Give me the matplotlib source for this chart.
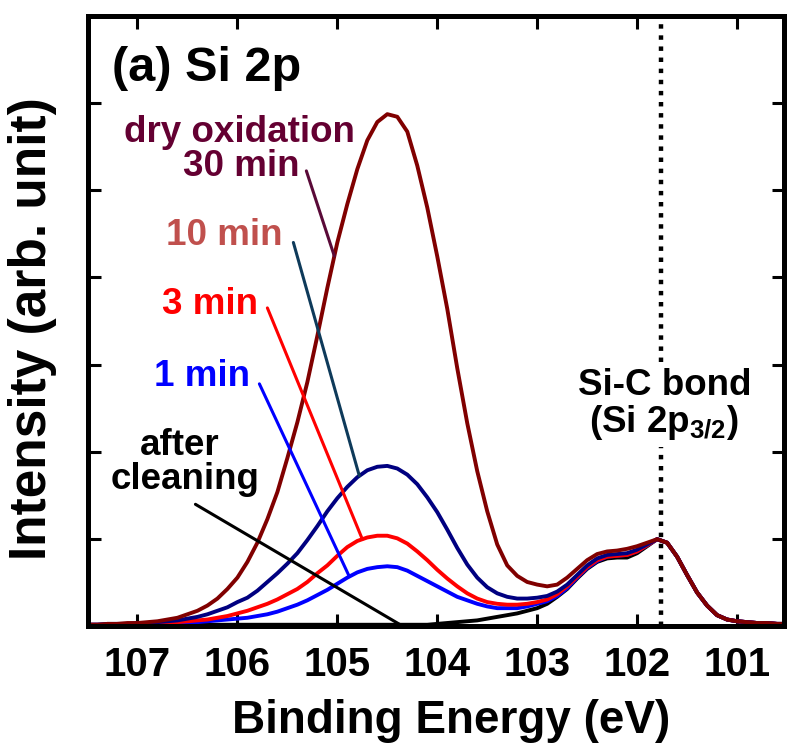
import numpy as np
import matplotlib
matplotlib.use("Agg")
import matplotlib.pyplot as plt

plt.rcParams["font.family"] = ["Liberation Sans", "DejaVu Sans"]
plt.rcParams["font.weight"] = "bold"
plt.rcParams["mathtext.fontset"] = "custom"
plt.rcParams["mathtext.rm"] = "Liberation Sans:bold"
plt.rcParams["mathtext.it"] = "Liberation Sans:bold"
plt.rcParams["mathtext.bf"] = "Liberation Sans:bold"

# Binding energy grid (eV), high to low
energy = np.round(np.arange(107.5, 100.45, -0.1), 1)

# Shared Si-C (Si 2p3/2) falling edge, 101.8 -> 100.5 eV
sic_tail = [1.00, 0.96, 0.80, 0.59, 0.39, 0.24, 0.13, 0.08, 0.06, 0.05,
            0.04, 0.04, 0.03, 0.03]

# Normalised intensities, 107.5 -> 101.9 eV
after_cleaning = [0.02, 0.02, 0.02, 0.02, 0.02, 0.02, 0.02, 0.02, 0.02, 0.02,
                  0.02, 0.02, 0.02, 0.02, 0.02, 0.02, 0.02, 0.02, 0.02, 0.02,
                  0.02, 0.02, 0.02, 0.02, 0.02, 0.02, 0.02, 0.02, 0.02, 0.02,
                  0.02, 0.02, 0.02, 0.02, 0.02,
                  0.03, 0.04, 0.05, 0.06, 0.07, 0.09, 0.11, 0.13, 0.15, 0.18,
                  0.21, 0.26, 0.34, 0.43, 0.55, 0.66, 0.74, 0.78, 0.79, 0.79,
                  0.84, 0.92]
ox_1min = [0.02, 0.02, 0.02, 0.02, 0.03, 0.03, 0.03, 0.04, 0.04, 0.05,
           0.05, 0.05, 0.06, 0.07, 0.08, 0.09, 0.10, 0.12, 0.14, 0.17,
           0.21, 0.25, 0.30, 0.36, 0.42, 0.49, 0.56, 0.62, 0.66, 0.68,
           0.69, 0.68, 0.64, 0.58, 0.52, 0.46, 0.40, 0.34, 0.30, 0.26,
           0.23, 0.21, 0.21, 0.21, 0.23, 0.26, 0.29, 0.35, 0.44, 0.56,
           0.67, 0.75, 0.80, 0.81, 0.82, 0.86, 0.93]
ox_3min = [0.02, 0.02, 0.02, 0.03, 0.03, 0.03, 0.04, 0.04, 0.05, 0.05,
           0.06, 0.07, 0.08, 0.10, 0.12, 0.15, 0.18, 0.22, 0.26, 0.31,
           0.37, 0.43, 0.51, 0.61, 0.70, 0.81, 0.91, 0.98, 1.02, 1.04,
           1.04, 1.01, 0.95, 0.86, 0.76, 0.65, 0.55, 0.46, 0.38, 0.32,
           0.28, 0.26, 0.25, 0.25, 0.26, 0.28, 0.31, 0.37, 0.46, 0.57,
           0.68, 0.76, 0.80, 0.81, 0.82, 0.86, 0.93]
ox_10min = [0.02, 0.02, 0.03, 0.03, 0.03, 0.04, 0.04, 0.05, 0.06, 0.07,
            0.09, 0.11, 0.14, 0.18, 0.22, 0.28, 0.33, 0.41, 0.51, 0.61,
            0.72, 0.84, 0.99, 1.15, 1.32, 1.47, 1.60, 1.71, 1.79, 1.83,
            1.84, 1.81, 1.74, 1.63, 1.48, 1.31, 1.11, 0.90, 0.71, 0.56,
            0.45, 0.38, 0.34, 0.32, 0.32, 0.33, 0.35, 0.40, 0.48, 0.59,
            0.70, 0.78, 0.82, 0.83, 0.84, 0.88, 0.94]
ox_30min = [0.02, 0.02, 0.03, 0.03, 0.04, 0.04, 0.05, 0.06, 0.08, 0.10,
            0.14, 0.18, 0.24, 0.32, 0.43, 0.56, 0.74, 0.96, 1.23, 1.54,
            1.93, 2.34, 2.80, 3.33, 3.88, 4.40, 4.84, 5.24, 5.57, 5.78,
            5.87, 5.84, 5.67, 5.28, 4.80, 4.24, 3.64, 2.96, 2.33, 1.78,
            1.32, 0.94, 0.70, 0.58, 0.51, 0.48, 0.46, 0.48, 0.56, 0.66,
            0.76, 0.83, 0.86, 0.87, 0.89, 0.92, 0.96]

sic_position = 101.76
x_ticks = [107, 106, 105, 104, 103, 102, 101]

series = [
    ("after cleaning", after_cleaning, "black"),
    ("1 min", ox_1min, "#0000ff"),
    ("3 min", ox_3min, "#ff0000"),
    ("10 min", ox_10min, "#000080"),
    ("30 min", ox_30min, "#800000"),
]

fig = plt.figure(figsize=(7.87, 7.43), dpi=100)
ax = fig.add_axes([0.1112, 0.1568, 0.8850, 0.8223])

curves = {}
for z, (name, vals, col) in enumerate(series):
    y = np.array(vals + sic_tail)
    curves[name] = y
    ax.plot(energy, y, color=col, lw=2.8, zorder=2 + 0.1 * z,
            solid_joinstyle="round")

# Si-C reference line, interrupted behind its label
ax.vlines([sic_position, sic_position], [0.0, 3.03], [2.06, 7.0],
          colors="black", linestyles=(0, (1.0, 1.5)), lw=3.2, zorder=1.5)

ax.set_xlim(107.5, 100.53)
ax.set_ylim(0, 7.0)
ax.set_xticks(x_ticks)
ax.set_xticklabels([str(t) for t in x_ticks])
ax.set_yticks(range(0, 8))
ax.tick_params(axis="both", direction="in", length=9, width=2.2,
               top=True, right=True, labelleft=False, labelsize=29, pad=14)
for lab in ax.get_xticklabels():
    lab.set_fontweight("bold")
for sp in ax.spines.values():
    sp.set_linewidth(3.6)
    sp.set_zorder(5)

fig.text(451 / 787, 1 - 733 / 743, "Binding Energy (eV)", ha="center",
         va="baseline", fontsize=33, fontweight="bold")
fig.text(33 / 787, 1 - 329 / 743, "Intensity (arb. unit)", ha="center",
         va="center", rotation=90, fontsize=37, fontweight="bold")

ax.text(107.25, 6.25, "(a) Si 2p", ha="left", va="baseline", fontsize=35,
        fontweight="bold")

lab_kw = dict(ha="center", va="baseline", fontsize=26.5, fontweight="bold")
ax.text(105.98, 5.55, "dry oxidation", color="#640032", **lab_kw)
ax.text(105.96, 5.16, "30 min", color="#640032", **lab_kw)
ax.text(106.13, 4.37, "10 min", color="#c0504d", **lab_kw)
ax.text(106.27, 3.58, "3 min", color="#ff0000", **lab_kw)
ax.text(106.35, 2.76, "1 min", color="#0000ff", **lab_kw)
ax.text(106.58, 1.97, "after", color="black", **lab_kw)
ax.text(106.52, 1.58, "cleaning", color="black", **lab_kw)
ax.text(101.72, 2.65, "Si-C bond", color="black", **lab_kw)
ax.text(101.73, 2.23, r"(Si 2p$_{3/2}$)", color="black", **lab_kw)

# Leader lines from labels to the spectra
leaders = [
    ("30 min", (105.31, 5.22), 105.03, "#5a0a38"),
    ("10 min", (105.44, 4.40), 104.78, "#0e3a5a"),
    ("3 min", (105.70, 3.65), 104.75, "#ff0000"),
    ("1 min", (105.78, 2.78), 104.88, "#0000ff"),
    ("after cleaning", (106.42, 1.40), 104.37, "black"),
]
for name, start, e_end, col in leaders:
    y_end = np.interp(e_end, energy[::-1], curves[name][::-1])
    ax.annotate("", xy=(e_end, y_end), xytext=start,
                arrowprops=dict(arrowstyle="-", color=col, lw=2.2,
                                shrinkA=0, shrinkB=0), zorder=3)

fig.savefig("out.png", dpi=100)
